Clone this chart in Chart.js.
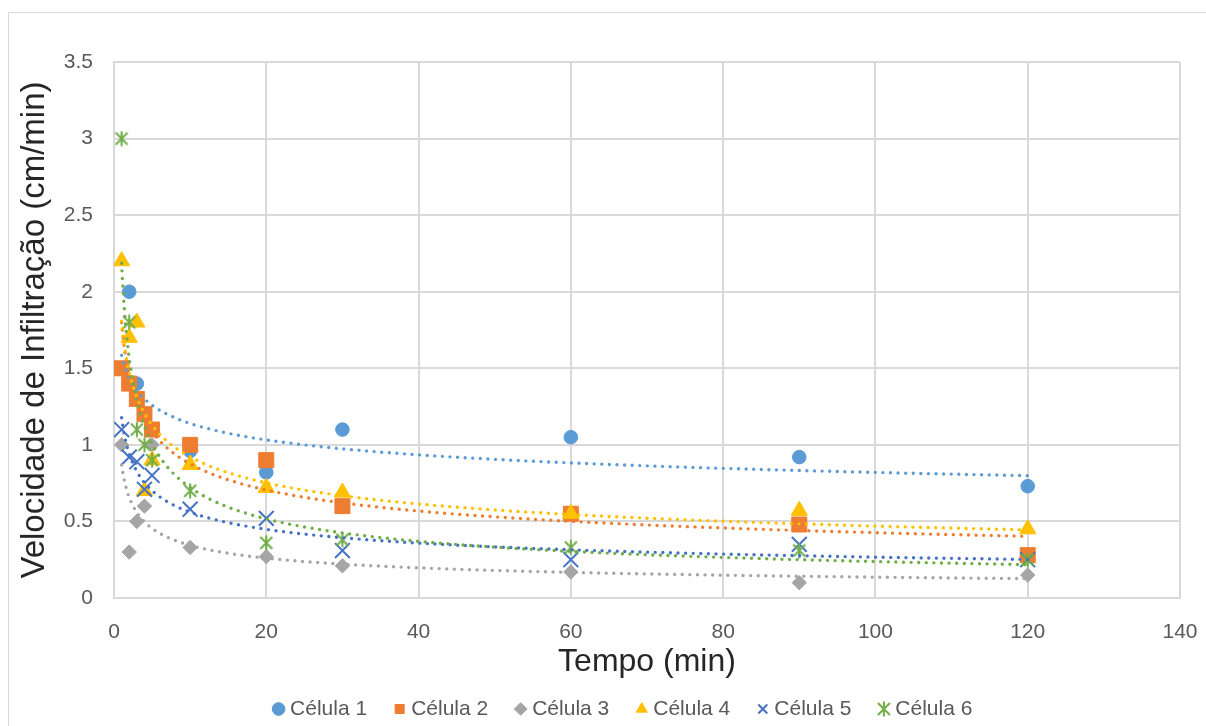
<!DOCTYPE html>
<html>
<head>
<meta charset="utf-8">
<script src="https://cdn.jsdelivr.net/npm/chart.js@4.4.0/dist/chart.umd.min.js"></script>
<style>
    body { margin: 0; background: #fff; overflow: hidden; }
    #frame { position: absolute; left: 8px; top: 12px; width: 1300px; height: 800px; border: 1px solid #d9d9d9; }
    #myChart { position: absolute; left: 0; top: 0; }
</style>
</head>
<body>
<div id="frame"></div>
<canvas id="myChart" width="1206" height="726"></canvas>
<script>
// tempo (min) de cada leitura
const tempo = [1, 2, 3, 4, 5, 10, 20, 30, 60, 90, 120];

const celula1 = [1.5, 2.0, 1.4, 1.2, 1.1, 0.96, 0.82, 1.1, 1.05, 0.92, 0.73];
const celula2 = [1.5, 1.4, 1.3, 1.2, 1.1, 1.0, 0.9, 0.6, 0.55, 0.48, 0.28];
const celula3 = [1.0, 0.3, 0.5, 0.6, 1.0, 0.33, 0.27, 0.21, 0.17, 0.1, 0.15];
const celula4 = [2.2, 1.7, 1.8, 0.7, 0.9, 0.87, 0.72, 0.69, 0.55, 0.57, 0.45];
const celula5 = [1.1, 0.92, 0.89, 0.71, 0.8, 0.58, 0.52, 0.31, 0.25, 0.35, 0.25];
const celula6 = [3.0, 1.8, 1.1, 1.0, 0.9, 0.7, 0.36, 0.38, 0.33, 0.31, 0.25];

const labels = ['Célula 1', 'Célula 2', 'Célula 3', 'Célula 4', 'Célula 5', 'Célula 6'];
const xTicks = [0, 20, 40, 60, 80, 100, 120, 140];
const yTicks = [0, 0.5, 1, 1.5, 2, 2.5, 3, 3.5];

const cores = ['#5B9BD5', '#ED7D31', '#A5A5A5', '#FFC000', '#4472C4', '#70AD47'];

// asterisco estilo Excel (X + traço vertical)
function asterisk(color) {
    const c = document.createElement('canvas');
    c.width = 16;
    c.height = 16;
    const g = c.getContext('2d');
    g.strokeStyle = color;
    g.lineWidth = 2;
    g.beginPath();
    g.moveTo(2, 2); g.lineTo(14, 14);
    g.moveTo(14, 2); g.lineTo(2, 14);
    g.moveTo(8, 0.5); g.lineTo(8, 15.5);
    g.stroke();
    return c;
}

const estilos = [
    { pointStyle: 'circle', radius: 6.8, border: 1 },
    { pointStyle: 'rect', radius: 10.6, border: 1 },
    { pointStyle: 'rectRot', radius: 7.2, border: 1 },
    { pointStyle: 'triangle', radius: 9.4, border: 1 },
    { pointStyle: 'crossRot', radius: 10.5, border: 2 },
    { pointStyle: asterisk(cores[5]), radius: 8, border: 2 }
];

const series = [celula1, celula2, celula3, celula4, celula5, celula6];

// ajuste potência (como a linha de tendência do Excel): y = a * x^b
function powerFit(xs, ys) {
    const n = xs.length;
    let sx = 0, sy = 0, sxx = 0, sxy = 0;
    for (let i = 0; i < n; i++) {
        const lx = Math.log(xs[i]), ly = Math.log(ys[i]);
        sx += lx; sy += ly; sxx += lx * lx; sxy += lx * ly;
    }
    const b = (n * sxy - sx * sy) / (n * sxx - sx * sx);
    const a = Math.exp((sy - b * sx) / n);
    return { a: a, b: b };
}

const trendPlugin = {
    id: 'trendLines',
    afterDatasetsDraw(chart) {
        const ctx = chart.ctx;
        const area = chart.chartArea;
        const x = chart.scales.x, y = chart.scales.y;
        ctx.save();
        ctx.beginPath();
        ctx.rect(area.left, area.top, area.width, area.height);
        ctx.clip();
        series.forEach(function (vals, i) {
            const fit = powerFit(tempo, vals);
            const x0 = Math.min(...tempo), x1 = Math.max(...tempo);
            ctx.beginPath();
            const steps = 2000;
            for (let k = 0; k <= steps; k++) {
                const xv = x0 + (x1 - x0) * k / steps;
                const px = x.getPixelForValue(xv);
                const py = y.getPixelForValue(fit.a * Math.pow(xv, fit.b));
                if (k === 0) ctx.moveTo(px, py); else ctx.lineTo(px, py);
            }
            ctx.setLineDash([0, 7.6]);
            ctx.lineCap = 'round';
            ctx.lineWidth = 3.4;
            ctx.strokeStyle = cores[i];
            ctx.stroke();
        });
        ctx.restore();
    }
};

Chart.defaults.font.family = "'Liberation Sans', Arial, sans-serif";

const datasets = series.map(function (vals, i) {
    return {
        label: labels[i],
        data: tempo.map(function (t, k) { return { x: t, y: vals[k] }; }),
        pointStyle: estilos[i].pointStyle,
        pointRadius: estilos[i].radius,
        pointHoverRadius: estilos[i].radius,
        pointBorderWidth: estilos[i].border,
        backgroundColor: cores[i],
        borderColor: cores[i],
        borderWidth: estilos[i].border,
        order: 6 - i
    };
});

const config = {
    type: 'scatter',
    data: { datasets: datasets },
    plugins: [trendPlugin],
    options: {
        responsive: false,
        animation: false,
        devicePixelRatio: 1,
        layout: {
            padding: { left: 56, right: 12, top: 62, bottom: 0 }
        },
        plugins: {
            tooltip: { enabled: false },
            legend: {
                position: 'bottom',
                maxHeight: 59,
                labels: {
                    usePointStyle: true,
                    boxWidth: 2,
                    boxHeight: 9,
                    padding: 31.5,
                    color: '#595959',
                    font: { size: 21 },
                    sort: function (a, b) { return a.datasetIndex - b.datasetIndex; }
                }
            }
        },
        scales: {
            x: {
                type: 'linear',
                min: 0,
                max: 140,
                afterBuildTicks: function (s) { s.ticks = xTicks.map(function (v) { return { value: v }; }); },
                afterFit: function (s) { s.height = 69; s.paddingRight = 26; },
                grid: { color: '#d9d9d9', lineWidth: 2, drawTicks: false },
                border: { color: '#d9d9d9', width: 2 },
                ticks: { padding: 22, color: '#595959', font: { size: 21 } },
                title: {
                    display: true,
                    text: 'Tempo (min)',
                    color: '#262626',
                    font: { size: 32 },
                    padding: { top: 0, bottom: -14.5 }
                }
            },
            y: {
                min: 0,
                max: 3.5,
                afterBuildTicks: function (s) { s.ticks = yTicks.map(function (v) { return { value: v }; }); },
                afterFit: function (s) { s.width = 58; },
                grid: { color: '#d9d9d9', lineWidth: 2, drawTicks: false },
                border: { color: '#d9d9d9', width: 2 },
                ticks: {
                    padding: 21,
                    color: '#595959',
                    font: { size: 21 },
                    callback: function (v) { return String(v); }
                },
                title: {
                    display: true,
                    text: 'Velocidade de Infiltração (cm/min)',
                    color: '#262626',
                    font: { size: 33 },
                    padding: { top: -40.5, bottom: 0 }
                }
            }
        }
    }
};

const myChart = new Chart(document.getElementById('myChart'), config);
</script>
</body>
</html>
